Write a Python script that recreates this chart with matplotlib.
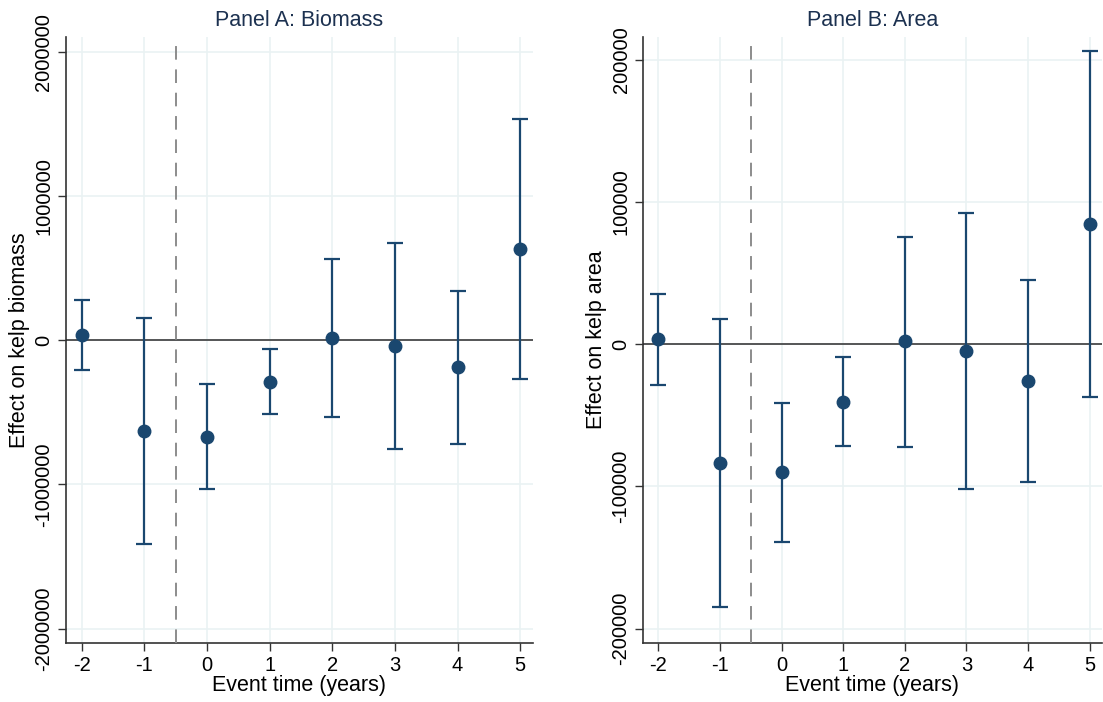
import numpy as np
import matplotlib
matplotlib.use("Agg")
from matplotlib import pyplot as plt

plt.rcParams['font.family'] = ['Liberation Sans', 'DejaVu Sans']
plt.rcParams['axes.unicode_minus'] = False

event_time = [-2, -1, 0, 1, 2, 3, 4, 5]

# Panel A: biomass
biomass_coef = [35000, -630000, -670000, -288000, 16000, -42000, -189000, 630000]
biomass_hi = [275000, 155000, -307000, -62000, 560000, 676000, 339000, 1536000]
biomass_lo = [-205000, -1410000, -1030000, -512000, -530000, -754000, -717000, -272000]
biomass_ticks = [-2000000, -1000000, 0, 1000000, 2000000]

# Panel B: area
area_coef = [3300, -83600, -90000, -40300, 1900, -5100, -26000, 84300]
area_hi = [35000, 17800, -41500, -8900, 75500, 92000, 45000, 205700]
area_lo = [-28500, -184500, -138900, -71400, -72400, -102000, -97000, -37200]
area_ticks = [-200000, -100000, 0, 100000, 200000]

navy = '#1a476f'
grid_col = '#eaf2f3'
title_col = '#1c3150'

fig = plt.figure(figsize=(11.03, 7.02), dpi=100)
ax_a = fig.add_axes([0.0598, 0.084, 0.4232, 0.863])
ax_b = fig.add_axes([0.583, 0.084, 0.416, 0.863])


def draw_panel(ax, coef, lo, hi, ticks, ylim, title, ylabel):
    x = np.array(event_time)
    coef = np.array(coef)
    yerr = [coef - np.array(lo), np.array(hi) - coef]
    ax.errorbar(x, coef, yerr=yerr, fmt='o', color=navy, ecolor=navy,
                markersize=9, elinewidth=1.6, capsize=6, capthick=1.6, zorder=4)
    ax.axhline(0, color='#2b2b2b', lw=1.1, zorder=3)
    ax.axvline(-0.5, color='#8c8c8c', lw=1.4, ls=(0, (7, 5)), zorder=3)
    ax.set_xlim(-2.25, 5.2)
    ax.set_ylim(*ylim)
    ax.set_xticks(event_time)
    ax.set_yticks(ticks)
    ax.set_yticklabels([str(t) for t in ticks], rotation=90, va='center')
    ax.grid(True, color=grid_col, lw=1.2, zorder=0)
    ax.set_axisbelow(True)
    for side in ['top', 'right']:
        ax.spines[side].set_visible(False)
    for side in ['left', 'bottom']:
        ax.spines[side].set_color('#333333')
        ax.spines[side].set_linewidth(1.2)
    ax.tick_params(axis='both', labelsize=14.5, length=6, width=1.0,
                   color='#333333', pad=3)
    ax.set_title(title, color=title_col, fontsize=15.5, pad=8)
    ax.set_xlabel('Event time (years)', fontsize=15.5, labelpad=0)
    ax.set_ylabel(ylabel, fontsize=15.5, labelpad=3)


draw_panel(ax_a, biomass_coef, biomass_lo, biomass_hi, biomass_ticks,
           (-2.1e6, 2.1e6), 'Panel A: Biomass', 'Effect on kelp biomass')
draw_panel(ax_b, area_coef, area_lo, area_hi, area_ticks,
           (-210000, 215700), 'Panel B: Area', 'Effect on kelp area')

fig.savefig('out.png', dpi=100)
